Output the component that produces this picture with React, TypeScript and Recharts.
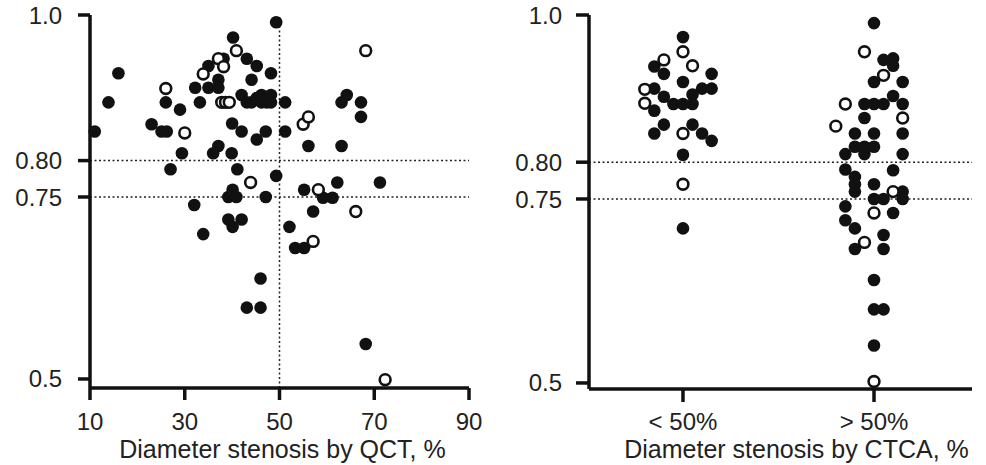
import React from 'react';
import { ScatterChart, Scatter, XAxis, YAxis, ReferenceLine } from 'recharts';

// ---------- Left panel: Diameter stenosis by QCT (%), FFR ----------
const qctFilledX = [11.0, 13.9, 16.0, 26.0, 23.0, 25.1, 26.2, 29.0, 29.4, 27.0, 32.2, 33.2, 35.0, 35.0, 37.1, 37.1, 38.2, 40.2, 43.1, 45.2, 48.2, 44.1, 42.0, 43.1, 44.1, 45.2, 46.2, 46.2, 47.3, 48.2, 48.2, 51.2, 49.3, 40.0, 42.0, 45.2, 47.1, 51.2, 37.1, 36.0, 39.9, 41.1, 49.3, 39.2, 40.1, 40.9, 47.1, 32.0, 39.2, 40.1, 42.0, 33.9, 52.1, 53.3, 55.2, 46.0, 43.1, 46.0, 68.2, 56.1, 63.1, 63.1, 64.2, 67.2, 67.2, 55.2, 59.2, 61.2, 62.2, 71.2, 57.1];
const qctFilledY = [0.840, 0.880, 0.920, 0.880, 0.850, 0.840, 0.840, 0.870, 0.810, 0.788, 0.900, 0.880, 0.930, 0.900, 0.911, 0.900, 0.940, 0.969, 0.940, 0.930, 0.920, 0.911, 0.890, 0.880, 0.880, 0.886, 0.890, 0.880, 0.880, 0.890, 0.880, 0.880, 0.990, 0.851, 0.840, 0.829, 0.840, 0.840, 0.820, 0.810, 0.810, 0.788, 0.779, 0.750, 0.760, 0.750, 0.750, 0.739, 0.719, 0.709, 0.719, 0.699, 0.709, 0.680, 0.680, 0.638, 0.598, 0.598, 0.548, 0.820, 0.820, 0.880, 0.890, 0.880, 0.860, 0.760, 0.749, 0.749, 0.770, 0.770, 0.730];
const qctOpenX = [26.0, 30.0, 33.9, 37.1, 38.2, 37.8, 38.6, 39.4, 40.9, 43.9, 55.0, 56.1, 58.2, 66.1, 57.1, 68.2, 72.3];
const qctOpenY = [0.899, 0.838, 0.919, 0.940, 0.929, 0.880, 0.880, 0.880, 0.951, 0.770, 0.850, 0.860, 0.760, 0.730, 0.689, 0.951, 0.499];
const qctTicks = [10, 30, 50, 70, 90];

// ---------- Right panel: Diameter stenosis by CTCA (categories) ----------
const ctcaCategories = ['< 50%', '> 50%'];
// group 1 (< 50%): jitter offset within column, FFR value
const lowFilledOff = [0, -0.3, -0.2, 0.3, 0, -0.3, 0.2, 0.3, -0.2, 0.1, 0.1, -0.1, 0, -0.3, -0.2, 0.1, -0.3, 0.2, 0.3, 0, 0];
const lowFilledY = [0.970, 0.930, 0.920, 0.920, 0.909, 0.900, 0.900, 0.900, 0.889, 0.892, 0.879, 0.879, 0.879, 0.870, 0.851, 0.851, 0.839, 0.839, 0.829, 0.810, 0.710];
const lowOpenOff = [0, -0.2, 0.1, -0.4, -0.4, 0, 0];
const lowOpenY = [0.950, 0.939, 0.931, 0.899, 0.880, 0.839, 0.770];
// group 2 (> 50%)
const highFilledOff = [0, 0.1, 0.2, 0.2, 0, 0.3, 0.2, -0.1, 0, 0.1, 0.3, -0.1, -0.2, 0, 0.3, -0.2, -0.1, 0, -0.3, -0.1, 0.3, -0.3, 0.2, -0.2, -0.2, -0.2, 0, 0.3, 0.3, 0, 0.1, -0.3, 0.2, -0.3, -0.2, 0.1, -0.2, 0.1, 0, 0, 0.1, 0];
const highFilledY = [0.989, 0.939, 0.941, 0.931, 0.909, 0.909, 0.890, 0.879, 0.879, 0.879, 0.879, 0.860, 0.839, 0.839, 0.839, 0.821, 0.821, 0.821, 0.811, 0.811, 0.811, 0.790, 0.789, 0.780, 0.770, 0.760, 0.770, 0.760, 0.750, 0.750, 0.750, 0.740, 0.731, 0.721, 0.710, 0.701, 0.682, 0.682, 0.640, 0.600, 0.600, 0.551];
const highOpenOff = [-0.1, 0.1, -0.3, 0.3, -0.4, 0.2, 0, -0.1, 0];
const highOpenY = [0.950, 0.918, 0.879, 0.860, 0.849, 0.760, 0.731, 0.691, 0.502];

const ffrTicks = [0.5, 0.75, 0.8, 1.0];
const ffrTickLabels: Record<string, string> = { '0.5': '0.5', '0.75': '0.75', '0.8': '0.80', '1': '1.0' };
const thresholds = [0.8, 0.75];

const FONT = '"Liberation Sans", Arial, Helvetica, sans-serif';
const INK = '#111';
const TEXT = '#222';

const zip = (xs: number[], ys: number[]) => xs.map((x, i) => ({ x, y: ys[i] }));
const group = (center: number, offs: number[], ys: number[]) => offs.map((o, i) => ({ x: center + o, y: ys[i] }));

const FilledDot = (p: any) => <circle cx={p.cx} cy={p.cy} r={6.3} fill={INK} />;
const OpenDot = (p: any) => <circle cx={p.cx} cy={p.cy} r={5.4} fill="#fff" stroke={INK} strokeWidth={2.6} />;

const axisLine = { stroke: INK, strokeWidth: 3.5 };
const tickStyle = { fill: TEXT, fontSize: 24, fontFamily: FONT };
const refStyle = { stroke: '#222', strokeWidth: 1.5, strokeDasharray: '2 2.5' };

function LeftPanel() {
  return (
    <ScatterChart width={500} height={465} margin={{ top: 15, right: 31, bottom: 0, left: 0 }}>
      <XAxis
        type="number" dataKey="x" domain={[10, 90]} ticks={qctTicks} interval={0} height={77}
        axisLine={axisLine} tickLine={axisLine} tickSize={12} tickMargin={13} tick={tickStyle}
        label={{ value: 'Diameter stenosis by QCT, %', position: 'insideBottom', offset: 7, dx: 3, fill: TEXT, fontSize: 25, fontFamily: FONT }}
      />
      <YAxis
        type="number" dataKey="y" domain={[0.4876, 1.0]} ticks={ffrTicks} interval={0} width={90}
        axisLine={axisLine} tickLine={axisLine} tickSize={12} tickMargin={16} tick={tickStyle}
        tickFormatter={(v: number) => ffrTickLabels[String(v)] ?? String(v)}
      />
      {thresholds.map((t) => <ReferenceLine key={t} y={t} {...refStyle} />)}
      <ReferenceLine x={50} {...refStyle} />
      <Scatter data={zip(qctFilledX, qctFilledY)} shape={FilledDot} isAnimationActive={false} />
      <Scatter data={zip(qctOpenX, qctOpenY)} shape={OpenDot} isAnimationActive={false} />
    </ScatterChart>
  );
}

function RightPanel() {
  return (
    <ScatterChart width={486} height={465} margin={{ top: 15, right: 14, bottom: 0, left: 0 }}>
      <XAxis
        type="number" dataKey="x" domain={[0.016, 4.026]} ticks={[1, 3]} interval={0} height={76}
        axisLine={axisLine} tickLine={axisLine} tickSize={13} tickMargin={11} tick={tickStyle}
        tickFormatter={(v: number) => ctcaCategories[v === 1 ? 0 : 1]}
        label={{ value: 'Diameter stenosis by CTCA, %', position: 'insideBottom', offset: 7, dx: 16, fill: TEXT, fontSize: 25, fontFamily: FONT }}
      />
      <YAxis
        type="number" dataKey="y" domain={[0.4918, 1.0]} ticks={ffrTicks} interval={0} width={89}
        axisLine={axisLine} tickLine={axisLine} tickSize={13} tickMargin={14} tick={tickStyle}
        tickFormatter={(v: number) => ffrTickLabels[String(v)] ?? String(v)}
      />
      {thresholds.map((t) => <ReferenceLine key={t} y={t} {...refStyle} />)}
      <Scatter data={group(1, lowFilledOff, lowFilledY)} shape={FilledDot} isAnimationActive={false} />
      <Scatter data={group(3, highFilledOff, highFilledY)} shape={FilledDot} isAnimationActive={false} />
      <Scatter data={group(1, lowOpenOff, lowOpenY)} shape={OpenDot} isAnimationActive={false} />
      <Scatter data={group(3, highOpenOff, highOpenY)} shape={OpenDot} isAnimationActive={false} />
    </ScatterChart>
  );
}

export default function App() {
  return (
    <div style={{ position: 'fixed', left: 0, top: 0, width: 986, height: 465, background: '#fff', display: 'flex' }}>
      <LeftPanel />
      <RightPanel />
    </div>
  );
}
